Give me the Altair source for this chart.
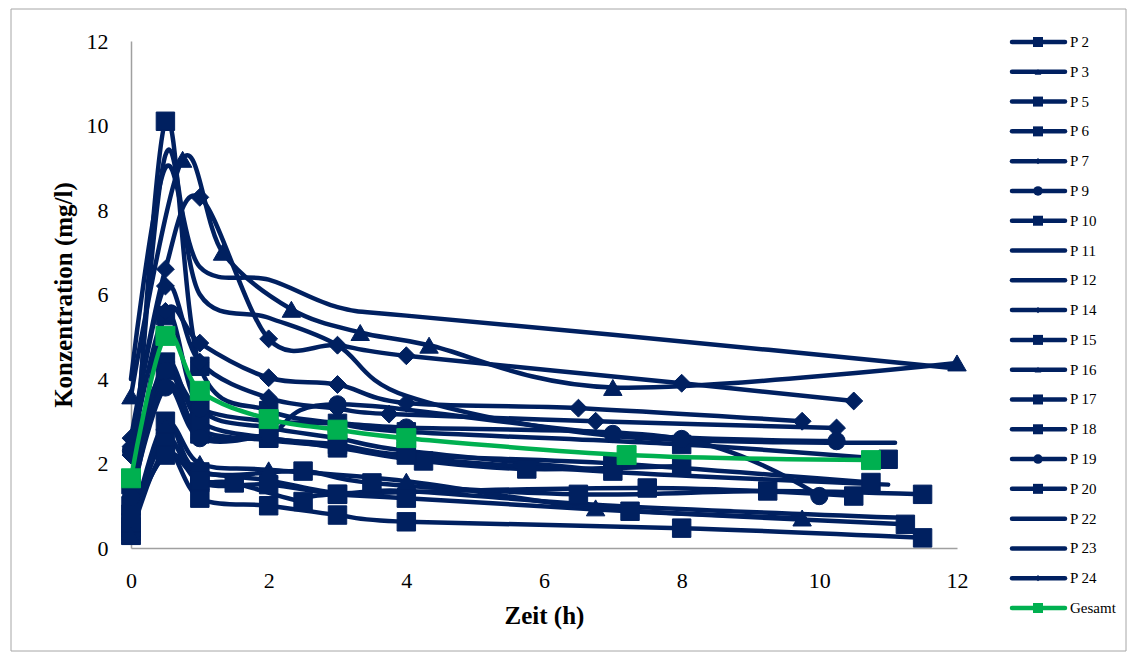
import altair as alt
import pandas as pd

# ---------------- data ----------------
names = ["P 2", "P 3", "P 5", "P 6", "P 7", "P 9", "P 10", "P 11", "P 12", "P 14",
         "P 15", "P 16", "P 17", "P 18", "P 19", "P 20", "P 22", "P 23", "P 24", "Gesamt"]

t_p2 = [0, 0.5, 1, 2, 3, 4, 8, 11]
c_p2 = [0.3, 10.1, 4.3, 3.25, 2.95, 2.75, 2.45, 2.1]
t_p3 = [0, 0.75, 1.33, 2.33, 3.33, 4.33, 7, 12]
c_p3 = [3.6, 9.2, 7.0, 5.65, 5.1, 4.8, 3.8, 4.38]
t_p5 = [0, 0.5, 1, 2, 3, 4, 8, 11.5]
c_p5 = [0.3, 2.3, 1.18, 1.0, 0.78, 0.62, 0.47, 0.24]
t_p6 = [0, 0.5, 1, 2.5, 3.5, 6.5, 9.25, 11.5]
c_p6 = [0.4, 3.0, 1.8, 1.82, 1.54, 1.27, 1.35, 1.27]
t_p7 = [0, 0.5, 1, 2, 3, 4, 8, 10.5]
c_p7 = [2.6, 6.6, 8.3, 4.95, 4.8, 4.55, 3.9, 3.48]
t_p9 = [0, 0.5, 1, 2, 3, 7, 10.25]
c_p9 = [1.2, 3.8, 2.6, 2.7, 3.4, 2.7, 2.53]
t_p10 = [0, 0.5, 1, 2, 3, 4, 7]
c_p10 = [0.8, 5.5, 3.3, 2.85, 2.6, 2.3, 1.82]
t_p11 = [0, 0.5, 1, 2, 3, 4, 7, 12]
c_p11 = [4.0, 9.0, 6.65, 6.35, 5.7, 5.5, 5.05, 4.25]
t_p12 = [0, 0.5, 1, 2, 3, 4, 7, 11.1]
c_p12 = [1.0, 9.3, 6.0, 5.45, 4.8, 3.6, 2.65, 2.49]
t_p14 = [0, 0.5, 1, 2, 3, 4, 6.5, 9.75]
c_p14 = [2.2, 5.6, 4.85, 4.03, 3.87, 3.43, 3.31, 3.0]
t_p15 = [0, 0.5, 1, 2, 3, 4, 7.25, 11.25]
c_p15 = [0.5, 2.6, 1.55, 1.5, 1.27, 1.18, 0.87, 0.56]
t_p16 = [0, 0.5, 1, 2, 4, 6.75, 9.75]
c_p16 = [0.3, 2.9, 2.0, 1.85, 1.58, 0.95, 0.71]
t_p17 = [0, 0.5, 1, 1.5, 2.5, 3, 7.5, 10.5]
c_p17 = [0.6, 2.2, 1.6, 1.54, 1.1, 1.27, 1.42, 1.23]
t_p18 = [0, 0.5, 1, 2, 3, 4.25, 5.75, 8]
c_p18 = [1.0, 4.2, 2.7, 2.6, 2.37, 2.06, 1.87, 1.94]
t_p19 = [0, 0.5, 1, 2, 3, 4, 8, 10]
c_p19 = [2.3, 4.2, 3.3, 3.0, 2.95, 2.85, 2.58, 1.23]
t_p20 = [0, 0.5, 1, 2, 3, 4, 7, 10.75]
c_p20 = [1.5, 4.4, 3.0, 2.6, 2.45, 2.2, 2.0, 1.55]
t_p22 = [0, 0.5, 1, 2, 3, 4, 7, 11.1]
c_p22 = [0.7, 2.2, 1.8, 1.6, 1.3, 1.35, 1.0, 0.72]
t_p23 = [0, 0.5, 1, 2, 3, 4, 7, 11]
c_p23 = [1.4, 3.9, 2.8, 2.55, 2.4, 2.15, 1.8, 1.5]
t_p24 = [0, 0.5, 1, 2, 3, 3.75, 6.75, 10.25]
c_p24 = [2.4, 6.2, 4.4, 3.55, 3.3, 3.17, 3.0, 2.84]
t_ges = [0, 0.5, 1, 2, 3, 4, 7.2, 10.75]
c_ges = [1.65, 5.02, 3.72, 3.05, 2.8, 2.6, 2.2, 2.08]

times = [t_p2, t_p3, t_p5, t_p6, t_p7, t_p9, t_p10, t_p11, t_p12, t_p14,
         t_p15, t_p16, t_p17, t_p18, t_p19, t_p20, t_p22, t_p23, t_p24, t_ges]
concs = [c_p2, c_p3, c_p5, c_p6, c_p7, c_p9, c_p10, c_p11, c_p12, c_p14,
         c_p15, c_p16, c_p17, c_p18, c_p19, c_p20, c_p22, c_p23, c_p24, c_ges]

square_s = ["P 2", "P 5", "P 6", "P 10", "P 15", "P 17", "P 18", "P 20"]
triangle_s = ["P 3", "P 16"]
diamond_s = ["P 7", "P 14", "P 24"]
circle_s = ["P 9", "P 19"]

rows = []
for n, ts, cs in zip(names, times, concs):
    for t, c in zip(ts, cs):
        rows.append({"series": n, "t": t, "c": c})
df = pd.DataFrame(rows)
legend_df = pd.DataFrame({"series": names})

# ---------------- style ----------------
NAVY = "#002060"
GREEN = "#00B050"
FONT = "Liberation Serif, Times New Roman, DejaVu Serif, serif"
W, H = 826, 507

x_enc = alt.X("t:Q", scale=alt.Scale(domain=[0, 12], nice=False),
              axis=alt.Axis(values=[0, 2, 4, 6, 8, 10, 12], title="Zeit (h)",
                            labelPadding=22, titlePadding=12, labelFlush=False))
y_enc = alt.Y("c:Q", scale=alt.Scale(domain=[0, 12], nice=False),
              axis=alt.Axis(values=[0, 2, 4, 6, 8, 10, 12], title="Konzentration (mg/l)",
                            labelPadding=23, titlePadding=10, labelFlush=False))

navy_df = alt.Chart(df).transform_filter(alt.datum.series != "Gesamt")
lines_navy = navy_df.mark_line(interpolate="cardinal", strokeWidth=4.5, color=NAVY,
                               strokeCap="round", strokeJoin="round").encode(
    x=x_enc, y=y_enc, detail="series:N")


def pts(group, shape, size, color=NAVY):
    return alt.Chart(df).transform_filter(
        alt.FieldOneOfPredicate(field="series", oneOf=group)
    ).mark_point(shape=shape, size=size, filled=True, opacity=1, color=color,
                 stroke=color, strokeWidth=1).encode(x=x_enc, y=y_enc)


p_sq = pts(square_s, "square", 340)
p_tri = pts(triangle_s, "triangle-up", 340)
p_dia = pts(diamond_s, "diamond", 320)
p_cir = pts(circle_s, "circle", 300)

ges_df = alt.Chart(df).transform_filter(alt.datum.series == "Gesamt")
line_green = ges_df.mark_line(interpolate="cardinal", strokeWidth=4.5, color=GREEN,
                              strokeCap="round", strokeJoin="round").encode(x=x_enc, y=y_enc)
p_green = pts(["Gesamt"], "square", 360, GREEN)

main = alt.layer(lines_navy, p_sq, p_tri, p_dia, p_cir, line_green, p_green)

# ---------------- legend built from the series list ----------------
y_leg = alt.Y("series:N", sort=names,
              scale=alt.Scale(type="point", domain=names, range=[1, 567], padding=0),
              axis=None)
col_leg = alt.Color("series:N", scale=alt.Scale(domain=names, range=[NAVY] * 19 + [GREEN]),
                    legend=None)

leg_rule = alt.Chart(legend_df).mark_rule(strokeWidth=4.5, strokeCap="round").encode(
    x=alt.value(881), x2=alt.value(934), y=y_leg, color=col_leg)


def leg_pts(group, shape, size):
    return alt.Chart(legend_df).transform_filter(
        alt.FieldOneOfPredicate(field="series", oneOf=group)
    ).mark_point(shape=shape, size=size, filled=True, opacity=1).encode(
        x=alt.value(907), y=y_leg, color=col_leg)


leg_sq = leg_pts(square_s + ["Gesamt"], "square", 100)
leg_tri = leg_pts(triangle_s, "triangle-up", 45)
leg_dia = leg_pts(diamond_s, "diamond", 40)
leg_cir = leg_pts(circle_s, "circle", 90)
leg_text = alt.Chart(legend_df).mark_text(align="left", baseline="middle", font=FONT,
                                          fontSize=15, color="black").encode(
    x=alt.value(939), y=y_leg, text="series:N")

legend = alt.layer(leg_rule, leg_sq, leg_tri, leg_dia, leg_cir, leg_text)

# ---------------- outer frame ----------------
frame = alt.Chart(pd.DataFrame({"k": [0]})).mark_rect(
    fill="transparent", stroke="#a6a6a6", strokeWidth=1).encode(
    x=alt.value(-120), x2=alt.value(995), y=alt.value(-32), y2=alt.value(610))

chart = alt.layer(frame, main, legend).resolve_scale(y="independent").properties(
    width=W, height=H, padding={"left": 2, "top": 0, "right": 0, "bottom": 0}
).configure_view(stroke=None).configure_axis(
    grid=False, ticks=False, domainColor="#a0a0a0", domainWidth=1.5,
    labelFont=FONT, labelFontSize=22, labelColor="black",
    titleFont=FONT, titleFontSize=25, titleFontWeight="bold", titleColor="black"
)

chart.save("out.html", embed_options={"renderer": "svg", "actions": False})
